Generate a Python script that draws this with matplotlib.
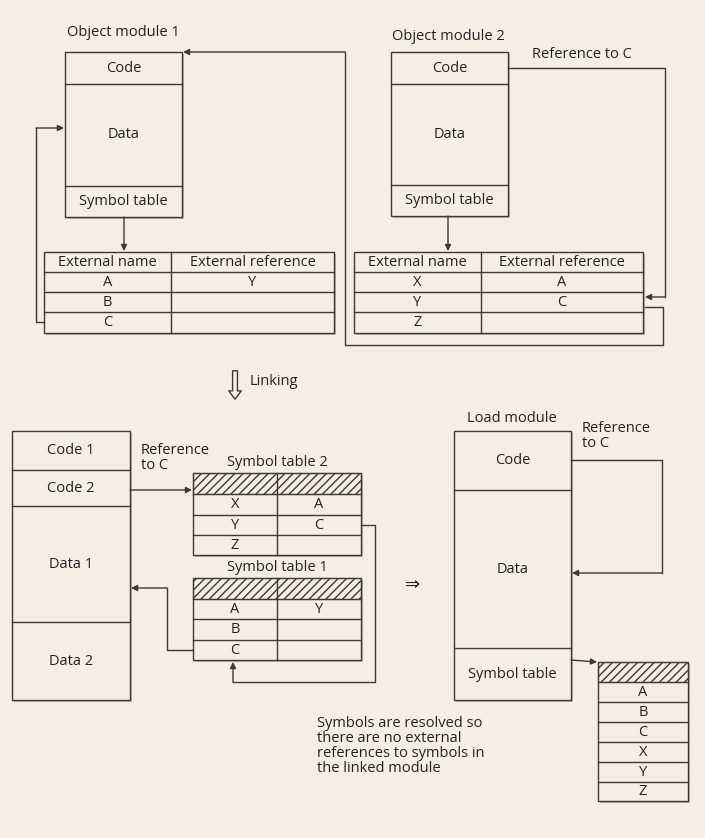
import matplotlib.pyplot as plt
from matplotlib.patches import Rectangle

# --- textos del diagrama ---
modulo1_filas = ["Code", "Data", "Symbol table"]
modulo2_filas = ["Code", "Data", "Symbol table"]
cabecera_tabla = ["External name", "External reference"]
tabla1_nombres = ["A", "B", "C"]
tabla1_refs = ["Y", "", ""]
tabla2_nombres = ["X", "Y", "Z"]
tabla2_refs = ["A", "C", ""]
enlazado_filas = ["Code 1", "Code 2", "Data 1", "Data 2"]
carga_filas = ["Code", "Data", "Symbol table"]
simbolos_finales = ["A", "B", "C", "X", "Y", "Z"]
nota = "Symbols are resolved so\nthere are no external\nreferences to symbols in\nthe linked module"

LC = "#3a3a3a"
FONDO = "#f6eee5"
FS = 10.5

fig = plt.figure(figsize=(7.05, 8.38), dpi=100)
fig.patch.set_facecolor(FONDO)
ax = fig.add_axes([0, 0, 1, 1])
ax.set_xlim(0, 705)
ax.set_ylim(838, 0)
ax.axis("off")
ax.set_facecolor(FONDO)

def texto(x, y, s, ha="center", va="center", family="Open Sans", fontsize=FS, **kw):
    ax.text(x, y, s, ha=ha, va=va, fontsize=fontsize, family=family, color="#222", **kw)

def caja(x0, x1, y0, y1):
    ax.add_patch(Rectangle((x0 + 2, y0 + 2), x1 - x0, y1 - y0, fc="#bfb6aa", ec="none", zorder=1))
    ax.add_patch(Rectangle((x0, y0), x1 - x0, y1 - y0, fc=FONDO, ec=LC, lw=1, zorder=2))

def hline(x0, x1, y):
    ax.plot([x0, x1], [y, y], color=LC, lw=1, zorder=3)

def vline(x, y0, y1):
    ax.plot([x, x], [y0, y1], color=LC, lw=1, zorder=3)

def linea(pts, flecha=True):
    xs = [p[0] for p in pts]
    ys = [p[1] for p in pts]
    ax.plot(xs[:-1], ys[:-1], color=LC, lw=1, zorder=3)
    if flecha:
        ax.annotate("", xy=pts[-1], xytext=pts[-2],
                    arrowprops=dict(arrowstyle="-|>", color=LC, lw=1, mutation_scale=9,
                                    shrinkA=0, shrinkB=0), zorder=4)
    else:
        ax.plot(xs[-2:], ys[-2:], color=LC, lw=1, zorder=3)

def modulo(x0, x1, cortes, filas):
    caja(x0, x1, cortes[0], cortes[-1])
    for y in cortes[1:-1]:
        hline(x0, x1, y)
    for i, f in enumerate(filas):
        texto((x0 + x1) / 2, (cortes[i] + cortes[i + 1]) / 2, f)

def tabla(x0, x1, xc, ys, col1, col2, cab=None):
    caja(x0, x1, ys[0], ys[-1])
    for y in ys[1:-1]:
        hline(x0, x1, y)
    if xc < x1:
        vline(xc, ys[0], ys[-1])
    filas = list(zip(col1, col2))
    if cab is None:
        ax.add_patch(Rectangle((x0, ys[0]), x1 - x0, ys[1] - ys[0], fc="none", ec=LC,
                               hatch="////", lw=0.8, zorder=3))
        inicio = 1
    else:
        filas = [tuple(cab)] + filas
        inicio = 0
    for i, (a, b) in enumerate(filas):
        j = i + inicio
        yc = (ys[j] + ys[j + 1]) / 2
        texto((x0 + xc) / 2, yc, a)
        if xc < x1:
            texto((xc + x1) / 2, yc, b)

# --- parte superior ---
texto(123, 33, "Object module 1")
modulo(65, 182, [52, 84, 186, 217], modulo1_filas)
tabla(44, 334, 171, [252, 272, 292, 312, 333], tabla1_nombres, tabla1_refs, cabecera_tabla)
linea([(124, 217), (124, 251)])
linea([(44, 322), (36, 322), (36, 128), (64, 128)])

texto(448, 36, "Object module 2")
modulo(391, 508, [52, 84, 185, 216], modulo2_filas)
tabla(354, 643, 481, [252, 272, 292, 312, 333], tabla2_nombres, tabla2_refs, cabecera_tabla)
linea([(448, 216), (448, 251)])
texto(532, 54, "Reference to C", ha="left")
linea([(508, 68), (665, 68), (665, 297), (645, 297)])
linea([(645, 307), (663, 307), (663, 345), (345, 345), (345, 52), (183, 52)])

# --- enlazado ---
ax.annotate("", xy=(235, 402), xytext=(235, 368),
            arrowprops=dict(arrowstyle="simple,head_width=0.9,head_length=0.6,tail_width=0.35",
                            fc=FONDO, ec=LC, lw=1))
texto(250, 381, "Linking", ha="left")

# --- parte inferior izquierda ---
modulo(12, 130, [431, 470, 506, 622, 700], enlazado_filas)
texto(141, 458, "Reference\nto C", ha="left", linespacing=1.0)
linea([(130, 490), (192, 490)])
texto(277, 462, "Symbol table 2")
tabla(193, 361, 277, [473, 494, 515, 535, 555], tabla2_nombres, tabla2_refs)
texto(277, 567, "Symbol table 1")
tabla(193, 361, 277, [578, 599, 619, 640, 660], tabla1_nombres, tabla1_refs)
linea([(361, 525), (375, 525), (375, 682), (233, 682), (233, 662)])
linea([(193, 650), (167, 650), (167, 588), (131, 588)])
texto(413, 585, "⇒", family="DejaVu Sans", fontsize=13)

# --- modulo de carga ---
texto(512, 418, "Load module")
modulo(454, 571, [431, 490, 648, 700], carga_filas)
texto(582, 436, "Reference\nto C", ha="left", linespacing=1.0)
linea([(571, 460), (662, 460), (662, 573), (572, 573)])
linea([(571, 660), (597, 662)])
tabla(598, 688, 688, [662, 682, 702, 722, 742, 762, 782, 801],
      simbolos_finales, [""] * 6)
texto(317, 716, nota, ha="left", va="top", linespacing=1.0)

fig.savefig("out.png", dpi=100, facecolor=FONDO)
